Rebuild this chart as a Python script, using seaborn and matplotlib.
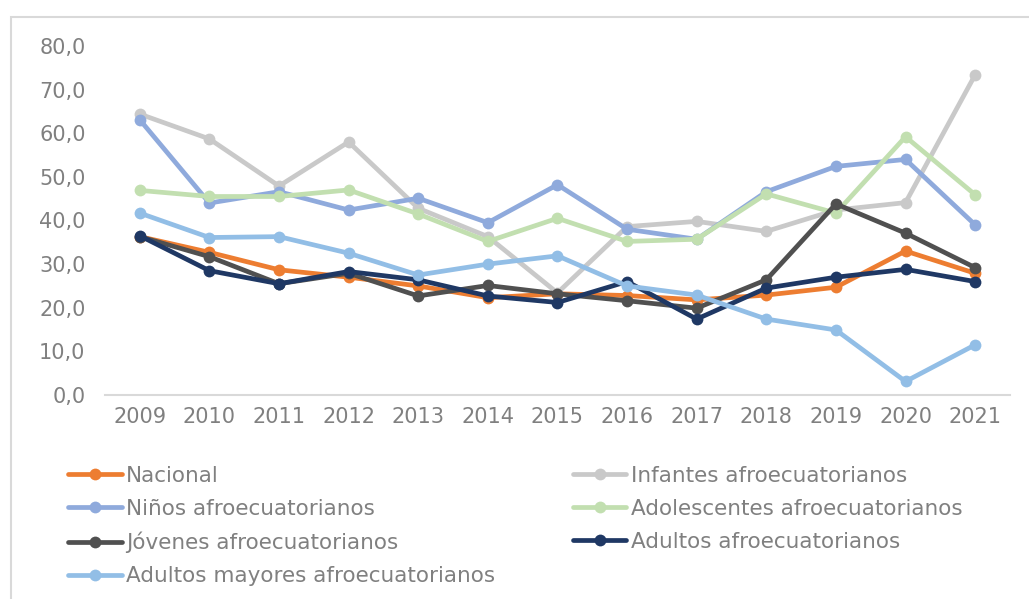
import pandas as pd
import seaborn as sns
import matplotlib.pyplot as plt
from matplotlib.patches import Rectangle
from matplotlib.ticker import FuncFormatter

years = list(range(2009, 2022))

nacional = [36.3, 32.7, 28.7, 27.0, 25.0, 22.3, 23.2, 22.8, 21.8, 22.9, 24.7, 33.0, 27.9]
infantes = [64.4, 58.7, 47.9, 58.0, 42.8, 36.3, 23.4, 38.6, 39.8, 37.5, 42.4, 44.1, 73.4]
ninos = [63.1, 44.0, 46.6, 42.4, 45.1, 39.5, 48.2, 38.0, 35.7, 46.6, 52.4, 54.0, 39.0]
adolescentes = [46.9, 45.5, 45.5, 47.0, 41.5, 35.2, 40.5, 35.2, 35.7, 46.1, 41.7, 59.2, 45.9]
jovenes = [36.3, 31.7, 25.5, 27.9, 22.7, 25.1, 23.2, 21.6, 19.9, 26.4, 43.8, 37.1, 29.2]
adultos = [36.5, 28.5, 25.5, 28.3, 26.4, 22.7, 21.2, 26.0, 17.4, 24.5, 27.0, 28.8, 26.0]
adultos_mayores = [41.7, 36.1, 36.3, 32.5, 27.5, 30.0, 31.9, 25.0, 22.9, 17.4, 14.9, 3.1, 11.5]

series = [
    ("Nacional", nacional, "#ED7D31"),
    ("Infantes afroecuatorianos", infantes, "#C9C9C9"),
    ("Niños afroecuatorianos", ninos, "#8FAADC"),
    ("Adolescentes afroecuatorianos", adolescentes, "#C2DFB0"),
    ("Jóvenes afroecuatorianos", jovenes, "#505050"),
    ("Adultos afroecuatorianos", adultos, "#1F3864"),
    ("Adultos mayores afroecuatorianos", adultos_mayores, "#92BEE6"),
]

sns.set_theme(style="white")
plt.rcParams['font.family'] = ['DejaVu Sans']
txt = "#808080"

fig = plt.figure(figsize=(10.29, 5.99), dpi=100)
ax = fig.add_axes([0.102, 0.3406, 0.8795, 0.5826])

handles = {}
for name, vals, col in series:
    df = pd.DataFrame({"year": years, "valor": vals})
    sns.lineplot(data=df, x="year", y="valor", color=col, marker="o",
                 markersize=8.5, markeredgewidth=0, linewidth=3.4, ax=ax,
                 label=name, legend=False)
    handles[name] = ax.lines[-1]

ax.set_xlim(2008.5, 2021.5)
ax.set_ylim(0, 80)
ax.set_yticks(range(0, 81, 10))
ax.set_xticks(years)
ax.yaxis.set_major_formatter(FuncFormatter(lambda v, p: f"{v:.1f}".replace(".", ",")))
ax.set_xlabel("")
ax.set_ylabel("")
for s in ["top", "left", "right"]:
    ax.spines[s].set_visible(False)
ax.spines["bottom"].set_color("#D9D9D9")
ax.spines["bottom"].set_linewidth(1.5)
ax.tick_params(axis="both", length=0, labelsize=15, labelcolor=txt)
ax.tick_params(axis="y", pad=14)
ax.tick_params(axis="x", pad=9)

order = ["Nacional", "Niños afroecuatorianos", "Jóvenes afroecuatorianos",
         "Adultos mayores afroecuatorianos", "Infantes afroecuatorianos",
         "Adolescentes afroecuatorianos", "Adultos afroecuatorianos"]
leg = fig.legend([handles[n] for n in order], order, ncol=2,
                 loc="upper left", bbox_to_anchor=(0.066, 0.222),
                 frameon=False, fontsize=15.5, handlelength=2.5,
                 handletextpad=0.2, columnspacing=3.6, labelspacing=0.6,
                 borderaxespad=0, borderpad=0)
for t in leg.get_texts():
    t.set_color(txt)

fig.patches.append(Rectangle((0.0107, -0.02), 1.0, 0.9916, transform=fig.transFigure,
                             fill=False, edgecolor="#D9D9D9", linewidth=1.5))

fig.savefig("out.png", dpi=100, facecolor="white")
